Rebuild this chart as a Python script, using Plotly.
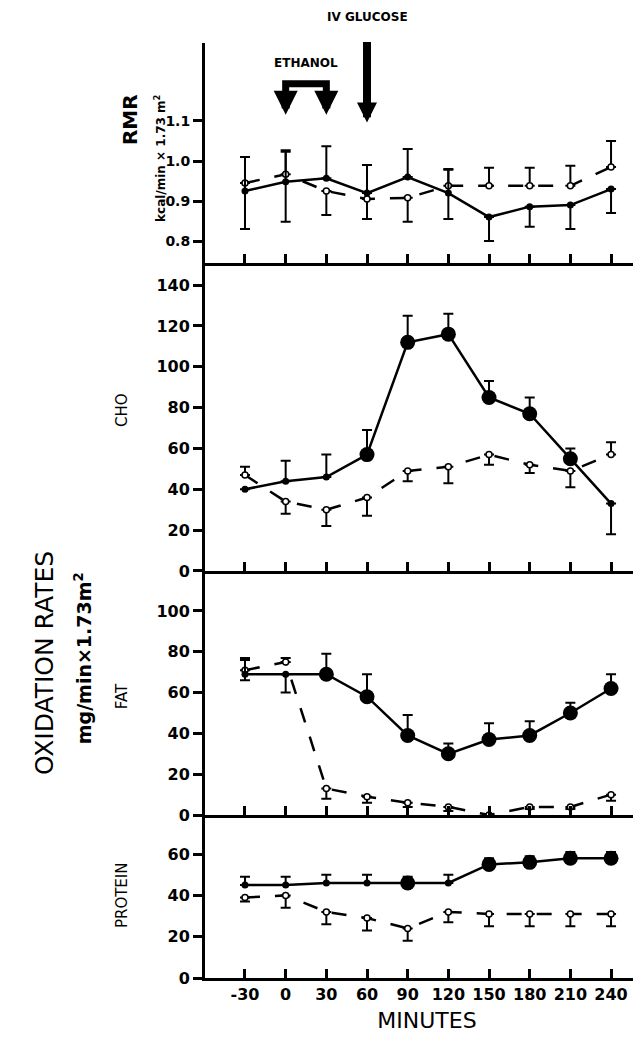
import plotly.graph_objects as go
from plotly.subplots import make_subplots

minutes = [-30, 0, 30, 60, 90, 120, 150, 180, 210, 240]

rmr_fill = [0.925, 0.948, 0.957, 0.92, 0.96, 0.92, 0.86, 0.886, 0.89, 0.93]
rmr_fill_up = [0.085, 0.075, 0.08, 0.07, 0.07, 0.06, 0, 0, 0, 0]
rmr_fill_dn = [0.095, 0.1, 0, 0, 0, 0.065, 0.06, 0.05, 0.06, 0.06]
rmr_open = [0.945, 0.967, 0.925, 0.905, 0.908, 0.938, 0.938, 0.938, 0.938, 0.985]
rmr_open_up = [0, 0.06, 0, 0, 0, 0.04, 0.045, 0.045, 0.05, 0.065]
rmr_open_dn = [0, 0, 0.06, 0.05, 0.06, 0, 0, 0, 0, 0]

cho_fill = [40, 44, 46, 57, 112, 116, 85, 77, 55, 33]
cho_fill_up = [0, 10, 11, 12, 13, 10, 8, 8, 5, 0]
cho_fill_dn = [0, 0, 0, 0, 0, 0, 0, 0, 0, 15]
cho_open = [47, 34, 30, 36, 49, 51, 57, 52, 49, 57]
cho_open_up = [4, 0, 0, 0, 0, 0, 0, 0, 0, 6]
cho_open_dn = [0, 6, 8, 9, 5, 8, 5, 4, 8, 0]

fat_fill = [69, 69, 69, 58, 39, 30, 37, 39, 50, 62]
fat_fill_up = [8, 0, 10, 11, 10, 5, 8, 7, 5, 7]
fat_fill_dn = [3, 9, 0, 0, 0, 0, 0, 0, 0, 0]
fat_open = [71, 75, 13, 9, 6, 4, 0, 4, 4, 10]
fat_open_up = [5, 2, 0, 0, 0, 0, 0, 0, 0, 0]
fat_open_dn = [0, 0, 5, 3, 2, 2, 0, 1, 1, 3]

pro_fill = [45, 45, 46, 46, 46, 46, 55, 56, 58, 58]
pro_fill_up = [4, 4, 4, 4, 3, 4, 3, 3, 3, 3]
pro_open = [39, 40, 32, 29, 24, 32, 31, 31, 31, 31]
pro_open_dn = [2, 6, 6, 6, 6, 5, 6, 6, 6, 6]

x_labels = ["-30", "0", "30", "60", "90", "120", "150", "180", "210", "240"]

big = 15
small = 7
rmr_size = [small] * 10
cho_size = [small, small, small, big, big, big, big, big, big, small]
fat_size = [small, small, big, big, big, big, big, big, big, big]
pro_size = [small, small, small, small, big, small, big, big, big, big]

fig = make_subplots(rows=4, cols=1, shared_xaxes=True, vertical_spacing=0)

panels = [
    (1, rmr_fill, rmr_fill_up, rmr_fill_dn, rmr_size, rmr_open, rmr_open_up, rmr_open_dn),
    (2, cho_fill, cho_fill_up, cho_fill_dn, cho_size, cho_open, cho_open_up, cho_open_dn),
    (3, fat_fill, fat_fill_up, fat_fill_dn, fat_size, fat_open, fat_open_up, fat_open_dn),
    (4, pro_fill, pro_fill_up, [0] * 10, pro_size, pro_open, [0] * 10, pro_open_dn),
]

for row, fv, fu, fd, fs, ov, ou, od in panels:
    fig.add_trace(go.Scatter(
        x=minutes, y=ov, mode="lines+markers",
        line=dict(color="black", width=2.5, dash="longdash"),
        marker=dict(size=6, color="white", line=dict(color="black", width=1.5)),
        error_y=dict(type="data", symmetric=False, array=ou, arrayminus=od,
                     color="black", thickness=2, width=5),
        showlegend=False), row=row, col=1)
    fig.add_trace(go.Scatter(
        x=minutes, y=fv, mode="lines+markers",
        line=dict(color="black", width=2.5),
        marker=dict(size=fs, color="black", opacity=1, line=dict(color="black", width=0)),
        error_y=dict(type="data", symmetric=False, array=fu, arrayminus=fd,
                     color="black", thickness=2, width=5),
        showlegend=False), row=row, col=1)

domains = [[0.737, 0.964], [0.4196, 0.737], [0.168, 0.4196], [0.0, 0.168]]
ranges = [[0.745, 1.295], [0, 150.8], [0, 119.6], [0, 78.9]]
tickvals = [[0.8, 0.9, 1.0, 1.1], [0, 20, 40, 60, 80, 100, 120, 140],
            [0, 20, 40, 60, 80, 100], [0, 20, 40, 60]]
ticktext = [["0.8", "0.9", "1.0", "1.1"], None, None, None]
tick_sizes = [14, 16, 16, 16]
font = "DejaVu Sans"

for i in range(4):
    yk = "yaxis" if i == 0 else "yaxis%d" % (i + 1)
    xk = "xaxis" if i == 0 else "xaxis%d" % (i + 1)
    fig.layout[yk].update(
        domain=domains[i], range=ranges[i], tickvals=tickvals[i],
        ticktext=ticktext[i], showgrid=False, zeroline=False,
        showline=True, linecolor="black", linewidth=3,
        ticks="outside", ticklen=9, tickwidth=3, tickcolor="black",
        tickfont=dict(family=font, size=tick_sizes[i], color="black", weight="bold"))
    fig.layout[xk].update(
        range=[-59.5, 268], tickvals=minutes, ticktext=x_labels,
        showgrid=False, zeroline=False,
        showline=True, linecolor="black", linewidth=3,
        ticks="inside", ticklen=9, tickwidth=3, tickcolor="black",
        showticklabels=(i == 3),
        tickfont=dict(family=font, size=16, color="black", weight="bold"))

fig.layout.xaxis4.title = dict(text="MINUTES", font=dict(family=font, size=22, color="black"),
                               standoff=10)

def side_label(x, y, text, size, bold=False):
    fig.add_annotation(xref="paper", yref="paper", x=x, y=y, text=text,
                       xanchor="center", yanchor="middle", showarrow=False, textangle=-90,
                       font=dict(family=font, size=size, color="black",
                                 weight="bold" if bold else "normal"))

side_label(-0.17, 0.885, "RMR", 20, True)
side_label(-0.10, 0.845, "kcal/min × 1.73 m<sup>2</sup>", 12, True)
side_label(-0.188, 0.585, "CHO", 15)
side_label(-0.188, 0.29, "FAT", 15)
side_label(-0.188, 0.085, "PROTEIN", 15)
side_label(-0.36, 0.325, "OXIDATION RATES", 25)
side_label(-0.274, 0.33, "mg/min×1.73m<sup>2</sup>", 19, True)

fig.add_annotation(xref="x", yref="paper", x=60, y=1.0, text="<b>IV GLUCOSE</b>",
                   showarrow=False, yanchor="top", font=dict(family=font, size=12, color="black"))
fig.add_annotation(xref="x", yref="paper", x=15, y=0.953, text="<b>ETHANOL</b>",
                   showarrow=False, yanchor="top", font=dict(family=font, size=12, color="black"))
fig.add_annotation(xref="x", yref="paper", x=60, y=0.882, ax=0, ay=-82, showarrow=True,
                   arrowhead=2, arrowsize=0.5, arrowwidth=8, arrowcolor="black", text="")
fig.add_shape(type="path", xref="x", yref="paper",
              path="M 0,0.897 L 0,0.922 L 30,0.922 L 30,0.897",
              line=dict(color="black", width=7))
for xv in [0, 30]:
    fig.add_annotation(xref="x", yref="paper", x=xv, y=0.89, ax=0, ay=-20, showarrow=True,
                       arrowhead=2, arrowsize=0.6, arrowwidth=8, arrowcolor="black", text="")

fig.update_layout(width=641, height=1041, margin=dict(l=197, r=0, t=0, b=71),
                  plot_bgcolor="white", paper_bgcolor="white")
fig.write_html("out.html")
